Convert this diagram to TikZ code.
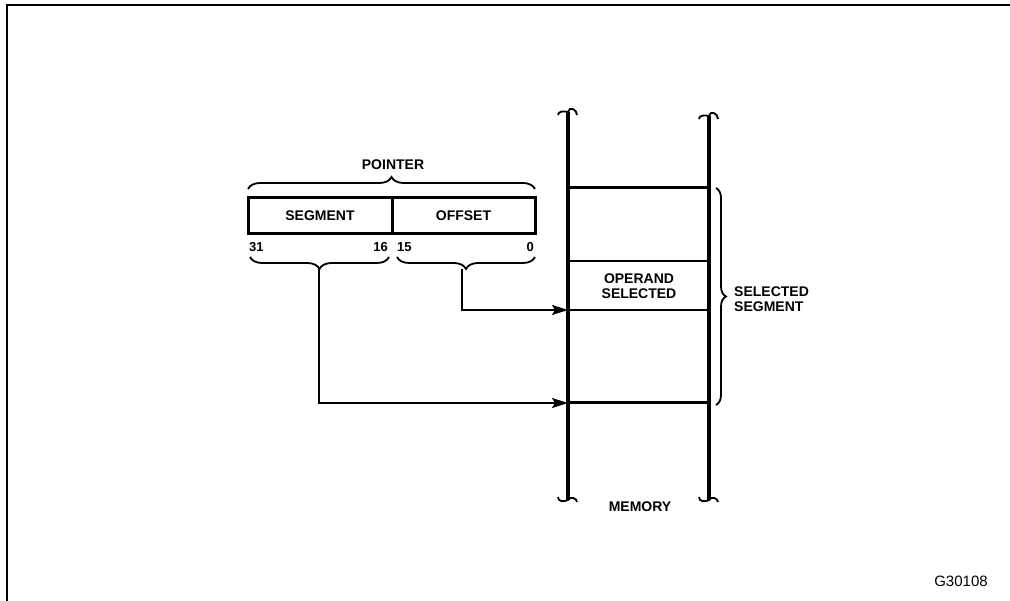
\documentclass[tikz,border=0pt]{standalone}
\usepackage{fontspec}
\setmainfont{Liberation Sans}
\usetikzlibrary{decorations.pathreplacing,arrows.meta}
\begin{document}
\begin{tikzpicture}[x=1pt,y=-1pt,
  lbl/.style={font=\bfseries\fontsize{14}{15.5}\selectfont, inner sep=0pt, align=center},
  num/.style={font=\bfseries\fontsize{13}{13}\selectfont, inner sep=0pt},
  fld/.style={draw, line width=3pt, minimum height=36pt, inner sep=0pt, font=\bfseries\fontsize{14}{15}\selectfont},
  brc/.style={decorate,decoration={brace,amplitude=12pt},line width=1.8pt},
  conn/.style={line width=1.7pt,-{Stealth[length=16pt,width=10pt,inset=3pt]}},
  memline/.style={line width=4pt},
  thickrow/.style={line width=3pt},
  thinrow/.style={line width=1.8pt},
  hook/.style={line width=1.8pt}
]
\useasboundingbox (0,0) rectangle (1010,601);
% frame
\draw[line width=2pt] (7,601) -- (7,5) -- (1010,5);

% pointer
\node[lbl] (ptrlbl) at (393,165) {POINTER};
\node[fld, minimum width=144pt] (seg) at (320,216) {SEGMENT};
\node[fld, minimum width=143pt] (off) at (463.5,216) {OFFSET};
\node[num, anchor=west] (b31) at (249,247) {31};
\node[num, anchor=east] (b16) at (388,247) {16};
\node[num, anchor=west] (b15) at (397,247) {15};
\node[num, anchor=east] (b0) at (534,247) {0};

\draw[brc] (248,189) -- (535,189);
\draw[brc] (389,257) -- (250,257);
\draw[brc] (535,257) -- (397,257);
\coordinate (segtip) at (319,269);
\coordinate (offtip) at (462,269);

% memory
\coordinate (mlt) at (568,112);
\coordinate (mlb) at (568,500);
\coordinate (mrt) at (709,116);
\coordinate (mrb) at (709,500);
\draw[memline] (mlt) -- (mlb);
\draw[memline] (mrt) -- (mrb);
\foreach \p in {mlt,mrt}{
  \draw[hook] ([shift={(-10,3)}]\p) .. controls +(0,-4) and +(-4,-1) .. ([shift={(0,0)}]\p)
     .. controls +(1,-6) and +(0,-6) .. ([shift={(9,3)}]\p);
}
\foreach \p in {mlb,mrb}{
  \draw[hook] ([shift={(-10,-3)}]\p) .. controls +(0,5) and +(-4,2) .. ([shift={(0,0)}]\p)
     .. controls +(2,-4) and +(0,-4) .. ([shift={(9,2)}]\p);
}
\coordinate (r1l) at (568,188); \coordinate (r1r) at (709,188);
\coordinate (r2l) at (568,261); \coordinate (r2r) at (709,261);
\coordinate (r3l) at (568,310); \coordinate (r3r) at (709,310);
\coordinate (r4l) at (568,403); \coordinate (r4r) at (709,403);
\draw[thickrow] (r1l) -- (r1r);
\draw[thinrow] (r2l) -- (r2r);
\draw[thinrow] (r3l) -- (r3r);
\draw[thickrow] (r4l) -- (r4r);
\node[lbl] (opnd) at (639,286) {OPERAND\\SELECTED};
\node[lbl] (mem) at (640,507) {MEMORY};

\draw[brc, decoration={amplitude=10pt}] (716,188) -- (716,405);
\node[lbl, anchor=west, align=left] (selseg) at (734,299) {SELECTED\\SEGMENT};

% connectors
\draw[conn] (offtip) |- (r3l);
\draw[conn] (segtip) |- (r4l);

\node[font=\fontsize{15}{16}\selectfont, inner sep=0pt] (fig) at (961,581) {G30108};
\end{tikzpicture}
\end{document}
